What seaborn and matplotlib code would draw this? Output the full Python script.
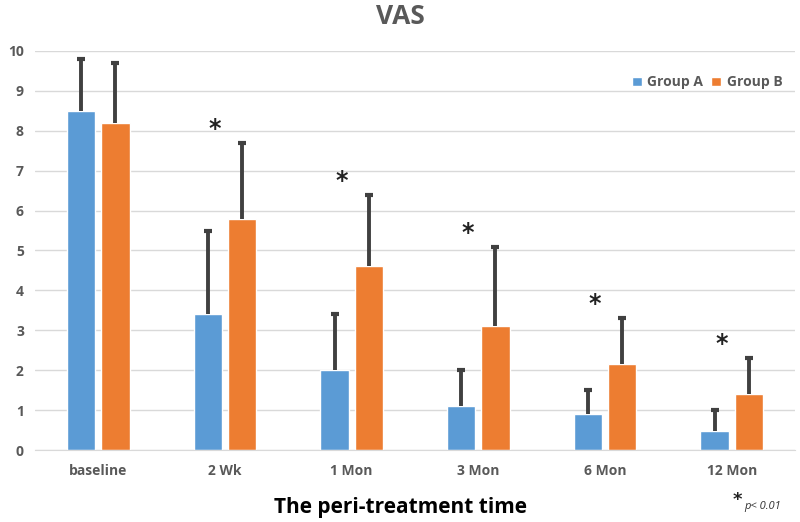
import seaborn as sns
import matplotlib.pyplot as plt
import pandas as pd
import numpy as np

# Values
times = ['baseline', '2 Wk', '1 Mon', '3 Mon', '6 Mon', '12 Mon']
group_a = [8.5, 3.4, 2.0, 1.1, 0.9, 0.48]
group_b = [8.2, 5.8, 4.6, 3.1, 2.15, 1.4]
sd_a = [1.3, 2.1, 1.4, 0.9, 0.6, 0.52]
sd_b = [1.5, 1.9, 1.8, 2.0, 1.15, 0.9]
signif = [False, True, True, True, True, True]

df = pd.DataFrame({
    'time': times * 2,
    'vas': group_a + group_b,
    'sd': sd_a + sd_b,
    'group': ['Group A'] * len(times) + ['Group B'] * len(times),
})

sns.set_style('white')
plt.rcParams['font.family'] = ['Open Sans', 'DejaVu Sans']

fig = plt.figure(figsize=(8, 5.22), dpi=100)
ax = fig.add_axes([35 / 800, 1 - 450 / 522, 760 / 800, 399 / 522])

palette = {'Group A': '#5B9BD5', 'Group B': '#ED7D31'}
sns.barplot(data=df, x='time', y='vas', hue='group', palette=palette,
            width=0.54, gap=0.17, errorbar=None, saturation=1, ax=ax)

# upper-only error bars at the bar centers seaborn placed
for cont, g in zip(ax.containers, ['Group A', 'Group B']):
    sub = df[df['group'] == g]
    xs = np.array([p.get_x() + p.get_width() / 2 for p in cont.patches])
    tops = sub['vas'].values + sub['sd'].values
    ax.vlines(xs, sub['vas'].values, tops, color='#404040', linewidth=2.8, zorder=3)
    ax.scatter(xs, tops, marker='_', s=40, linewidths=3, color='#404040', zorder=3)

# significance stars
upper_b = np.array(group_b) + np.array(sd_b)
for i, s in enumerate(signif):
    if s:
        ax.text(i - 0.08, upper_b[i] + 0.35, '*', ha='center', va='center',
                fontsize=17, fontweight='bold', color='#222222', family='DejaVu Sans')

ax.set_ylim(0, 10)
ax.set_xlim(-0.5, 5.5)
ax.set_yticks(range(0, 11))
ax.yaxis.grid(True, color='#D9D9D9', linewidth=1)
ax.set_axisbelow(True)
for side in ['top', 'right', 'left']:
    ax.spines[side].set_visible(False)
ax.spines['bottom'].set_color('#D9D9D9')
ax.tick_params(axis='both', length=0, colors='#595959', labelsize=10)
ax.tick_params(axis='x', pad=10)
ax.tick_params(axis='y', pad=8)
for lab in ax.get_xticklabels() + ax.get_yticklabels():
    lab.set_fontweight('bold')

ax.set_xlabel('')
ax.set_ylabel('')
fig.text(0.5, 1 - 507 / 522, 'The peri-treatment time', ha='center', va='center',
         fontsize=15, fontweight='bold', color='black')
fig.text(0.5, 1 - 16 / 522, 'VAS', ha='center', va='center',
         fontsize=19, fontweight='bold', color='#595959')
fig.text(737 / 800, 1 - 500 / 522, '*', ha='center', va='center', fontsize=13,
         fontweight='bold', color='#222222', family='DejaVu Sans')
fig.text(744 / 800, 1 - 507 / 522, 'p< 0.01', ha='left', va='center',
         fontsize=8, style='italic', color='#333333')

leg = ax.legend(loc='upper right', bbox_to_anchor=(1.0, 0.97), ncol=2,
                frameon=False, handlelength=0.7, handleheight=0.7,
                handletextpad=0.4, columnspacing=0.6, fontsize=10)
for t in leg.get_texts():
    t.set_color('#595959')
    t.set_fontweight('bold')

fig.savefig('out.png', dpi=100)
